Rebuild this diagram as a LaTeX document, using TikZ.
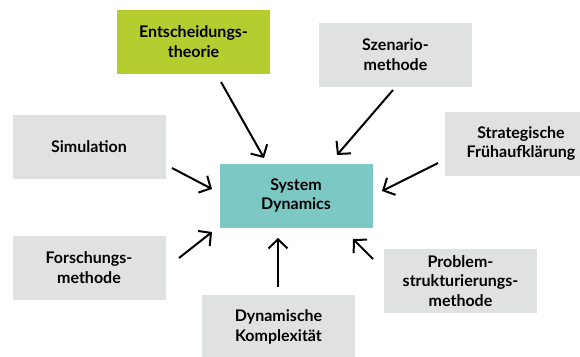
\documentclass[tikz,border=0pt]{standalone}
\usepackage{fontspec}
\setmainfont{Lato}
\usetikzlibrary{arrows.meta}
\definecolor{boxgray}{HTML}{E0E1E1}
\definecolor{boxgreen}{HTML}{B5CD2E}
\definecolor{boxteal}{HTML}{7CC8C4}
\begin{document}
\begin{tikzpicture}[x=1pt,y=-1pt,
  topic/.style={fill=boxgray, minimum width=153pt, minimum height=64pt,
    inner sep=0pt, align=center, font=\fontsize{16}{19.8}\selectfont\bfseries},
  link/.style={line width=2pt, -{Straight Barb[length=9pt,width=19pt,line width=2pt]}}]
\useasboundingbox (0,0) rectangle (580,356);
\clip (0,0) rectangle (580,356);
\node[topic, fill=boxgreen] (ent) at (193.5,42) {Entscheidungs-\\theorie};
\node[topic] (sze) at (395.5,54.5) {Szenario-\\methode};
\node[topic] (sim) at (89,146.5) {Simulation};
\node[topic] (fru) at (521,143.5) {Strategische\\Frühaufklärung};
\node[topic, fill=boxteal] (sd) at (296,195.5) {System\\Dynamics};
\node[topic] (for) at (89,268) {Forschungs-\\methode};
\node[topic] (pro) at (460.5,281) {Problem-\\strukturierungs-\\methode};
\node[topic] (dyn) at (278.5,327) {Dynamische\\Komplexität};
% connectors: free ends leave a gap to each box
\coordinate (entS) at (221,82);  \coordinate (entT) at (264,158);
\coordinate (szeS) at (393,90);  \coordinate (szeT) at (337,155);
\coordinate (fruS) at (438,163); \coordinate (fruT) at (382,191);
\coordinate (simS) at (172,168); \coordinate (simT) at (212,189);
\coordinate (forS) at (179,258); \coordinate (forT) at (212,232);
\coordinate (dynS) at (278,287); \coordinate (dynT) at (278,238);
\coordinate (proS) at (373,259); \coordinate (proT) at (353,239);
\draw[link] (entS) -- (entT);
\draw[link] (szeS) -- (szeT);
\draw[link] (fruS) -- (fruT);
\draw[link] (simS) -- (simT);
\draw[link] (forS) -- (forT);
\draw[link] (dynS) -- (dynT);
\draw[link] (proS) -- (proT);
\end{tikzpicture}
\end{document}
